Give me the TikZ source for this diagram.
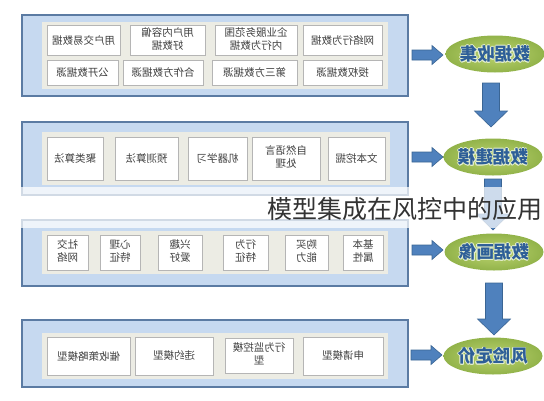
\documentclass[tikz,border=0pt]{standalone}
\usepackage{fontspec}
\usetikzlibrary{shapes.geometric,shadows}
\newfontfamily\cjk{Noto Sans CJK SC}
\definecolor{panelfill}{HTML}{C6D9F0}
\definecolor{paneldraw}{HTML}{5B7BA3}
\definecolor{innerbg}{HTML}{ECECE4}
\definecolor{boxdraw}{HTML}{B5B5B5}
\definecolor{arrfill}{HTML}{4F81BD}
\definecolor{arrdraw}{HTML}{3A6594}
\definecolor{ellin}{HTML}{BCD470}
\definecolor{ellout}{HTML}{92B34A}
\definecolor{elltext}{HTML}{2E5F98}
\definecolor{outl}{HTML}{E4EFD0}
\definecolor{boxtext}{HTML}{404040}
\newcommand\two[2]{\begin{tabular}{@{}c@{}}#1\\#2\end{tabular}}
\newcommand\oc[3]{\makebox[0pt][l]{\hspace*{#1}\raisebox{#2}{\textcolor{outl}{#3}}}}
\newcommand\otext[1]{%
  \oc{0.7pt}{0pt}{#1}\oc{-0.7pt}{0pt}{#1}\oc{0pt}{0.7pt}{#1}\oc{0pt}{-0.7pt}{#1}%
  \oc{0.5pt}{0.5pt}{#1}\oc{-0.5pt}{0.5pt}{#1}\oc{0.5pt}{-0.5pt}{#1}\oc{-0.5pt}{-0.5pt}{#1}%
  #1}
\tikzset{
  panel/.style={fill=panelfill,draw=paneldraw,line width=1.1pt},
  inner/.style={fill=innerbg,draw=none},
  mirrored/.style={xscale=-1,transform shape},
  ibox/.style={mirrored,fill=white,draw=boxdraw,line width=0.6pt,inner sep=0pt,
     font=\cjk\fontsize{10.5}{13}\selectfont,text=boxtext,
     drop shadow={shadow xshift=0.8pt,shadow yshift=-0.8pt,opacity=0.25}},
  ell/.style={mirrored,ellipse,inner color=ellin,outer color=ellout,draw=none,
     minimum width=94pt,minimum height=37pt,inner sep=0pt,
     font=\cjk\bfseries\fontsize{17.5}{17.5}\selectfont,text=elltext},
  barrow/.style={fill=arrfill,draw=arrdraw,line width=0.6pt,line join=miter}
}
\newcommand\bx[6]{%
  \pgfmathsetmacro\cx{(#2+#4)/2}\pgfmathsetmacro\cy{(#3+#5)/2}%
  \pgfmathsetmacro\ww{#4-#2}\pgfmathsetmacro\hh{#5-#3}%
  \node[ibox,minimum width=\ww pt,minimum height=\hh pt] (#1) at (\cx,\cy) {#6};}
\newcommand\harr[3]{%
  \path[barrow] (#1,#3-5) -- (#2-11,#3-5) -- (#2-11,#3-9.5) -- (#2,#3) -- (#2-11,#3+9.5) -- (#2-11,#3+5) -- (#1,#3+5) -- cycle;}
\newcommand\varr[3]{%
  \path[barrow] (#1-8.5,#2) -- (#1+8.5,#2) -- (#1+8.5,#3-16) -- (#1+16.5,#3-16) -- (#1,#3) -- (#1-16.5,#3-16) -- (#1-8.5,#3-16) -- cycle;}
\begin{document}
\begin{tikzpicture}[x=1pt,y=-1pt]
\useasboundingbox (0,0) rectangle (544,400);
% panels
\path[panel] (22,15) rectangle (408,96);
\path[panel] (22,122) rectangle (408,195);
\path[panel] (22,220) rectangle (408,286);
\path[panel] (22,320) rectangle (408,387);
\path[inner] (42,22) rectangle (388,89);
\path[inner] (42,132) rectangle (390,185);
\path[inner] (42,231) rectangle (388,274);
\path[inner] (42,333) rectangle (388,379);
% panel 1
\bx{a1}{47}{25}{120}{55}{用户交易数据}
\bx{a2}{130}{25}{205}{55}{\two{用户内容偏}{好数据}}
\bx{a3}{215}{25}{297}{55}{\two{企业服务范围}{内行为数据}}
\bx{a4}{303}{25}{382}{55}{网络行为数据}
\bx{b1}{47}{60}{118}{85}{公开数据源}
\bx{b2}{123}{60}{203}{85}{合作方数据源}
\bx{b3}{212}{60}{297}{85}{第三方数据源}
\bx{b4}{303}{60}{382}{85}{授权数据源}
% panel 2
\bx{c1}{47}{137}{103}{180}{聚类算法}
\bx{c2}{115}{137}{178}{180}{预测算法}
\bx{c3}{188}{137}{247}{180}{机器学习}
\bx{c4}{252}{137}{320}{180}{\two{自然语言}{处理}}
\bx{c5}{328}{137}{385}{180}{文本挖掘}
% panel 3
\bx{d1}{47}{235}{88}{270}{\two{社交}{网络}}
\bx{d2}{100}{235}{140}{270}{\two{心理}{特征}}
\bx{d3}{158}{235}{202}{270}{\two{兴趣}{爱好}}
\bx{d4}{223}{235}{268}{270}{\two{行为}{特征}}
\bx{d5}{285}{235}{328}{270}{\two{购买}{能力}}
\bx{d6}{343}{235}{383}{270}{\two{基本}{属性}}
% panel 4
\bx{e1}{47}{337}{130}{375}{催收策略模型}
\bx{e2}{135}{337}{213}{375}{违约模型}
\bx{e3}{225}{338}{293}{373}{\two{行为监控模}{型}}
\bx{e4}{303}{337}{383}{375}{申请模型}
% ellipses
\node[ell] (s1) at (495,54) {\otext{数据收集}};
\node[ell] (s2) at (493,157) {\otext{数据建模}};
\node[ell] (s3) at (494,252) {\otext{数据画像}};
\node[ell] (s4) at (493,356) {\otext{风险定价}};
% arrows
\harr{412}{443}{55}
\harr{412}{443}{157}
\harr{412}{443}{250}
\harr{411}{442}{355}
\varr{491}{83}{127}
\varr{493}{179}{230}
\varr{494}{283}{335}
% title band
\fill[white,opacity=0.72] (0,187) rectangle (544,228);
\node[font=\cjk\fontsize{25}{25}\selectfont,text=black!80,anchor=east,inner sep=0pt] (title) at (543,209) {模型集成在风控中的应用};
\end{tikzpicture}
\end{document}
